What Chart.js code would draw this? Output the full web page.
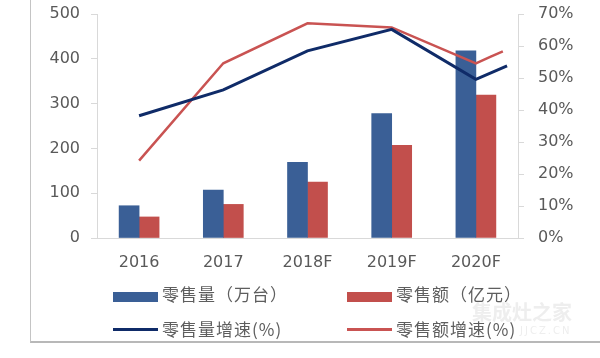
<!DOCTYPE html>
<html>
<head>
<meta charset="utf-8">
<script src="https://cdn.jsdelivr.net/npm/chart.js@4"></script>
<style>
  html, body { margin: 0; padding: 0; background: #fff; }
  #wrap { position: relative; width: 600px; height: 358px; overflow: hidden; font-family: "Noto Sans CJK SC", sans-serif; }
  #frame { position: absolute; left: 30px; top: -2px; width: 580px; height: 343px; border-left: 1px solid #c4c4c4; border-bottom: 2px solid #b8b8b8; }
  canvas { position: absolute; left: 0; top: 0; }
  .lg { position: absolute; font-size: 17px; letter-spacing: 1px; color: #5e5e5e; line-height: 20px; white-space: nowrap; }
  .sw { position: absolute; }
  .wm { position: absolute; color: #eeeeee; white-space: nowrap; }
</style>
</head>
<body>
<div id="wrap">
  <div id="frame"></div>
  <canvas id="c" width="600" height="358"></canvas>
  <div class="wm" style="left:472px;top:297px;font-size:20px;font-weight:bold;">集成灶之家</div>
  <div class="wm" style="left:520px;top:325px;font-size:10px;letter-spacing:2px;font-family:'DejaVu Sans';">JJCZ.CN</div>
  <div id="legend"></div>
</div>
<script>
const categories = ["2016", "2017", "2018F", "2019F", "2020F"];
const categoryPositions = [0, 1, 2, 3, 4];
const salesVolume = [72, 107, 169, 278, 418];      // 零售量（万台）
const salesValue  = [47, 75, 125, 207, 319];       // 零售额（亿元）
const volumeGrowthX = [0, 1, 2, 3, 4, 4.37];
const volumeGrowth  = [38.2, 46.3, 58.5, 65.2, 49.6, 53.8];   // 零售量增速(%)
const valueGrowthX  = [0, 1, 2, 3, 4, 4.17, 4.32];
const valueGrowth   = [24.2, 54.6, 67.1, 65.8, 54.6, 56.6, 58.3]; // 零售额增速(%)
const leftTicks = [0, 100, 200, 300, 400, 500];
const rightTicks = [0, 10, 20, 30, 40, 50, 60, 70];

const seriesNames = ["零售量（万台）", "零售额（亿元）", "零售量增速(%)", "零售额增速(%)"];
const colors = { volBar: "#3a5f96", valBar: "#c24f4c", volLine: "#0f2b68", valLine: "#c95352" };

const toXY = (xs, ys) => xs.map((x, i) => ({ x: x, y: ys[i] }));
const tickFont = { family: "'DejaVu Sans', sans-serif", size: 16 };
const tickColor = "#595959";
const axisGray = "#d9d9d9";
const noPadV = s => { s.paddingTop = 0; s.paddingBottom = 0; };

new Chart(document.getElementById("c"), {
  type: "bar",
  data: {
    datasets: [
      { type: "line", label: seriesNames[2], data: toXY(volumeGrowthX, volumeGrowth), yAxisID: "y1",
        borderColor: colors.volLine, borderWidth: 3, pointRadius: 0, tension: 0, fill: false, order: 0 },
      { type: "line", label: seriesNames[3], data: toXY(valueGrowthX, valueGrowth), yAxisID: "y1",
        borderColor: colors.valLine, borderWidth: 2.5, pointRadius: 0, tension: 0, fill: false, order: 0 },
      { label: seriesNames[0], data: toXY(categoryPositions, salesVolume), backgroundColor: colors.volBar, yAxisID: "y",
        barThickness: 20, order: 1 },
      { label: seriesNames[1], data: toXY(categoryPositions, salesValue), backgroundColor: colors.valBar, yAxisID: "y",
        barThickness: 20, order: 1 }
    ]
  },
  options: {
    responsive: false,
    animation: false,
    devicePixelRatio: 1,
    layout: { padding: { left: 0, right: 0, top: 14, bottom: 80 } },
    plugins: { legend: { display: false }, tooltip: { enabled: false } },
    scales: {
      x: {
        type: "linear",
        position: "bottom",
        offset: false,
        min: -0.5, max: 4.5,
        afterBuildTicks: s => { s.ticks = categoryPositions.map(v => ({ value: v })); },
        grid: { display: false, drawTicks: false, offset: false },
        border: { display: true, color: axisGray, width: 1 },
        ticks: { font: tickFont, color: tickColor, padding: 15, maxRotation: 0, autoSkip: false,
                 callback: v => categories[v] },
        afterFit: s => { s.height = 40; s.paddingLeft = 0; s.paddingRight = 0; }
      },
      y: {
        position: "left",
        min: 0, max: 500,
        afterBuildTicks: s => { s.ticks = leftTicks.map(v => ({ value: v })); },
        grid: { drawOnChartArea: false, drawTicks: true, tickLength: 6, color: axisGray },
        border: { display: true, color: axisGray, width: 1 },
        ticks: { font: tickFont, color: tickColor, padding: 11 },
        afterFit: s => { s.width = 97; noPadV(s); }
      },
      y1: {
        position: "right",
        min: 0, max: 70,
        afterBuildTicks: s => { s.ticks = rightTicks.map(v => ({ value: v })); },
        grid: { drawOnChartArea: false, drawTicks: true, tickLength: 6, color: axisGray },
        border: { display: true, color: axisGray, width: 1 },
        ticks: { font: tickFont, color: tickColor, padding: 14, callback: v => v + "%" },
        afterFit: s => { s.width = 82; noPadV(s); }
      }
    }
  }
});

// legend (2 x 2 grid) built from series names and colours
const legendItems = [
  { name: seriesNames[0], color: colors.volBar, kind: "box", left: 113, top: 297, textMid: 295 },
  { name: seriesNames[1], color: colors.valBar, kind: "box", left: 347, top: 297, textMid: 295 },
  { name: seriesNames[2], color: colors.volLine, kind: "line", left: 113, top: 329, textMid: 330 },
  { name: seriesNames[3], color: colors.valLine, kind: "line", left: 347, top: 329, textMid: 330 }
];
const lg = document.getElementById("legend");
legendItems.forEach(it => {
  const sw = document.createElement("div");
  sw.className = "sw";
  const h = it.kind === "box" ? 10 : 3;
  sw.style.cssText = `left:${it.left}px;top:${it.top - h / 2}px;width:45px;height:${h}px;background:${it.color};`;
  lg.appendChild(sw);
  const t = document.createElement("div");
  t.className = "lg";
  t.textContent = it.name;
  t.style.left = (it.left + 49) + "px";
  t.style.top = (it.textMid - 11) + "px";
  lg.appendChild(t);
});
</script>
</body>
</html>
